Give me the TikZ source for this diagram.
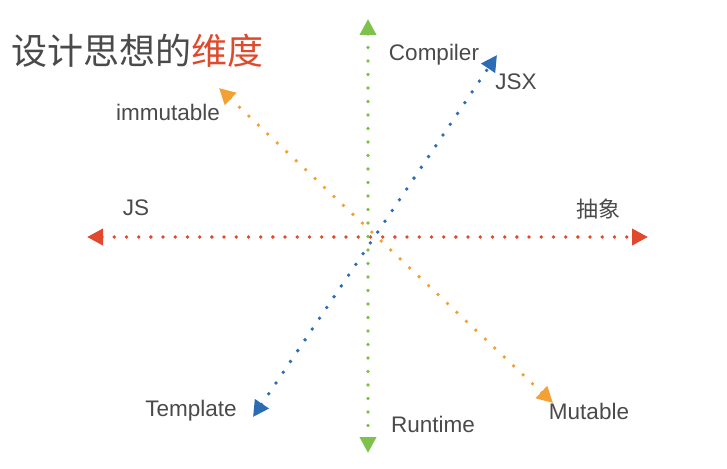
\documentclass[tikz,border=0pt]{standalone}
\usepackage{fontspec}
\setmainfont{Liberation Sans}
\newfontfamily\cjk{Noto Sans CJK SC}
\usetikzlibrary{arrows.meta}

\definecolor{axisred}{HTML}{E0492B}
\definecolor{axisgreen}{HTML}{7DC24B}
\definecolor{axisblue}{HTML}{2B6CB4}
\definecolor{axisorange}{HTML}{F2A132}
\definecolor{labelgray}{HTML}{4A4A4A}

\tikzset{
	dimaxis/.style={line width=3.8pt, line cap=round, dash pattern=on 0pt off #1,
		{Triangle[length=16pt,width=16pt]}-{Triangle[length=16pt,width=16pt]}},
	dimaxis/.default=12.5pt,
	dimlabel/.style={text=labelgray, font=\fontsize{22.5}{26}\selectfont, inner sep=0pt}
}

\begin{document}
\begin{tikzpicture}[x=1pt, y=-1pt]
	\useasboundingbox (0,0) rectangle (727,468);
	
	% Title
	\node[anchor=west, inner sep=0pt, font=\cjk\fontsize{36}{40}\selectfont, text=labelgray]
		(title) at (11,51) {设计思想的\textcolor{axisred}{维度}};
	
	% End points
	\coordinate (jsEnd) at (87,237);
	\coordinate (absEnd) at (648,237);
	\coordinate (compEnd) at (368,19);
	\coordinate (runEnd) at (368,453);
	\coordinate (jsxEnd) at (497,55);
	\coordinate (tplEnd) at (253,417);
	\coordinate (immEnd) at (219,88);
	\coordinate (mutEnd) at (553,403);
	
	% Axes
	\draw[dimaxis=12.2pt, axisred] (jsEnd) -- (absEnd);
	\draw[dimaxis=13.5pt, axisgreen] (compEnd) -- (runEnd);
	\draw[dimaxis=13pt, axisblue] (tplEnd) -- (jsxEnd);
	\draw[dimaxis=13pt, axisorange] (immEnd) -- (mutEnd);
	
	% Labels
	\node[dimlabel] (js) at (136,208) {JS};
	\node[dimlabel, font=\cjk\fontsize{22}{26}\selectfont] (abs) at (598,209) {抽象};
	\node[dimlabel] (comp) at (434,55) {Compiler};
	\node[dimlabel] (run) at (433,424) {Runtime};
	\node[dimlabel] (jsx) at (516,82) {JSX};
	\node[dimlabel] (tpl) at (191,411) {Template};
	\node[dimlabel] (imm) at (168,112) {immutable};
	\node[dimlabel] (mut) at (589,411) {Mutable};
	
\end{tikzpicture}
\end{document}
